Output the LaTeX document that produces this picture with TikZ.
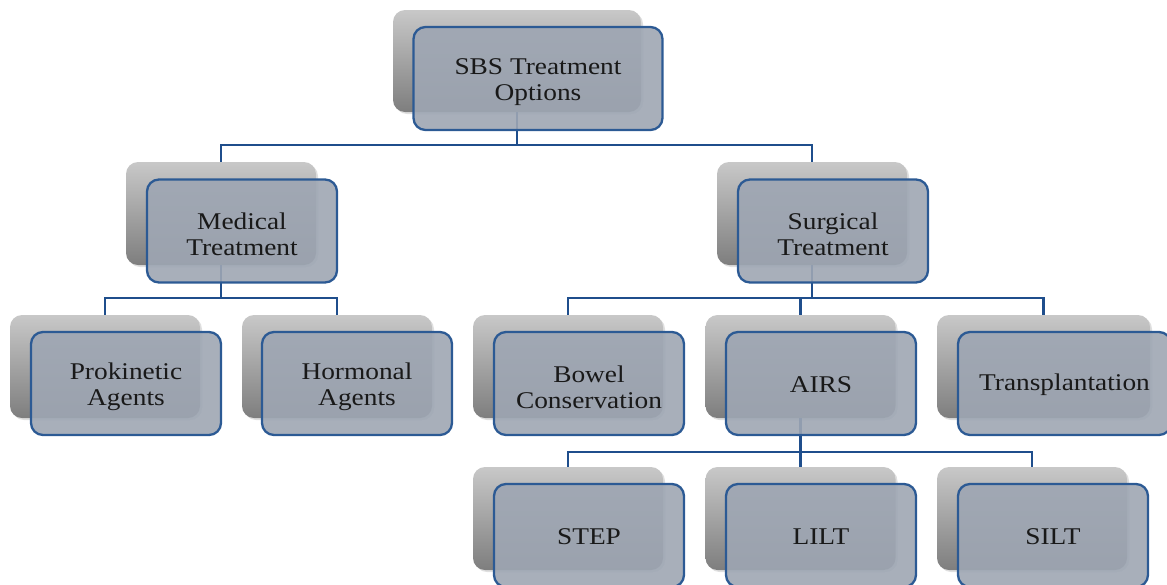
\documentclass[tikz,border=0pt]{standalone}
\usepackage{fontspec}
\setmainfont{Liberation Serif}[FakeStretch=1.14]
\usetikzlibrary{shadows}
\definecolor{cTop}{HTML}{C8C8C8}
\definecolor{cMid}{HTML}{BDBDBD}
\definecolor{cBot}{HTML}{7E7E7E}
\definecolor{cFront}{HTML}{9EA6B3}
\definecolor{cBorder}{HTML}{2C5A94}
\definecolor{cLine}{HTML}{1F4E8C}
\tikzset{
  backbox/.style={rounded corners=12pt, minimum height=103pt, inner sep=0pt,
    top color=cTop, middle color=cMid, bottom color=cBot, draw=none,
    drop shadow={shadow xshift=2pt, shadow yshift=-2pt, opacity=0.25}},
  frontbox/.style={rounded corners=12pt, minimum height=103pt, inner sep=0pt,
    draw=cBorder, line width=2.3pt, fill=cFront, fill opacity=0.9},
  txt/.style={align=center, inner sep=0pt, text=black!90,
    font=\fontsize{24}{26}\selectfont},
  conn/.style={draw=cLine, line width=2.4pt}
}
\begin{document}
\begin{tikzpicture}[x=1pt,y=-1pt]
\useasboundingbox (0,0) rectangle (1167,584);
% back boxes
\node[backbox, minimum width=248pt, minimum height=102pt] (g0) at (517,61) {};
\node[backbox, minimum width=190pt] (g1) at (221,213.5) {};
\node[backbox, minimum width=190pt] (g2) at (812,213.5) {};
\node[backbox, minimum width=190pt] (g3) at (105,366.5) {};
\node[backbox, minimum width=190pt] (g4) at (337,366.5) {};
\node[backbox, minimum width=190pt] (g5) at (568,366.5) {};
\node[backbox, minimum width=190pt] (g6) at (800.5,366.5) {};
\node[backbox, minimum width=213pt] (g7) at (1043.5,366.5) {};
\node[backbox, minimum width=190pt] (g8) at (568,518.5) {};
\node[backbox, minimum width=190pt] (g9) at (800.5,518.5) {};
\node[backbox, minimum width=190pt] (g10) at (1032,518.5) {};
% connectors
\path (g0.south) ++(0,33) coordinate (j0);
\path (g1.south) ++(0,33) coordinate (j1);
\path (g2.south) ++(0,33) coordinate (j2);
\path (g6.south) ++(0,34) coordinate (j6);
\draw[conn] (g0.south) -- (j0) -| (g1.north);
\draw[conn] (j0) -| (g2.north);
\draw[conn] (g1.south) -- (j1) -| (g3.north);
\draw[conn] (j1) -| (g4.north);
\draw[conn] (g2.south) -- (j2) -| (g5.north);
\draw[conn] (j2) -| (g6.north);
\draw[conn] (j2) -| (g7.north);
\draw[conn] (g6.south) -- (j6) -| (g8.north);
\draw[conn] (j6) -| (g9.north);
\draw[conn] (j6) -| (g10.north);
% front boxes
\node[frontbox, minimum width=249pt] (f0) at (538,78.5) {};
\node[frontbox, minimum width=190pt] (f1) at (242,231) {};
\node[frontbox, minimum width=190pt] (f2) at (833,231) {};
\node[frontbox, minimum width=190pt] (f3) at (126,383.5) {};
\node[frontbox, minimum width=190pt] (f4) at (357,383.5) {};
\node[frontbox, minimum width=190pt] (f5) at (589,383.5) {};
\node[frontbox, minimum width=190pt] (f6) at (821,383.5) {};
\node[frontbox, minimum width=213pt] (f7) at (1064.5,383.5) {};
\node[frontbox, minimum width=190pt] (f8) at (589,535.5) {};
\node[frontbox, minimum width=190pt] (f9) at (821,535.5) {};
\node[frontbox, minimum width=190pt] (f10) at (1053,535.5) {};
% texts
\node[txt] (t0) at ([yshift=-3.5pt]f0.center) {SBS Treatment\\Options};
\node[txt] (t1) at ([yshift=-3.5pt]f1.center) {Medical\\Treatment};
\node[txt] (t2) at ([yshift=-3.5pt]f2.center) {Surgical\\Treatment};
\node[txt] (t3) at ([yshift=-3.5pt]f3.center) {Prokinetic\\Agents};
\node[txt] (t4) at ([yshift=-3.5pt]f4.center) {Hormonal\\Agents};
\node[txt] (t5) at ([yshift=-3.5pt]f5.center) {Bowel\\Conservation};
\node[txt] (t6) at ([yshift=-1.5pt]f6.center) {AIRS};
\node[txt] (t7) at ([yshift=-1.5pt]f7.center) {Transplantation};
\node[txt] (t8) at ([yshift=-1.5pt]f8.center) {STEP};
\node[txt] (t9) at ([yshift=-1.5pt]f9.center) {LILT};
\node[txt] (t10) at ([yshift=-1.5pt]f10.center) {SILT};
\end{tikzpicture}
\end{document}
